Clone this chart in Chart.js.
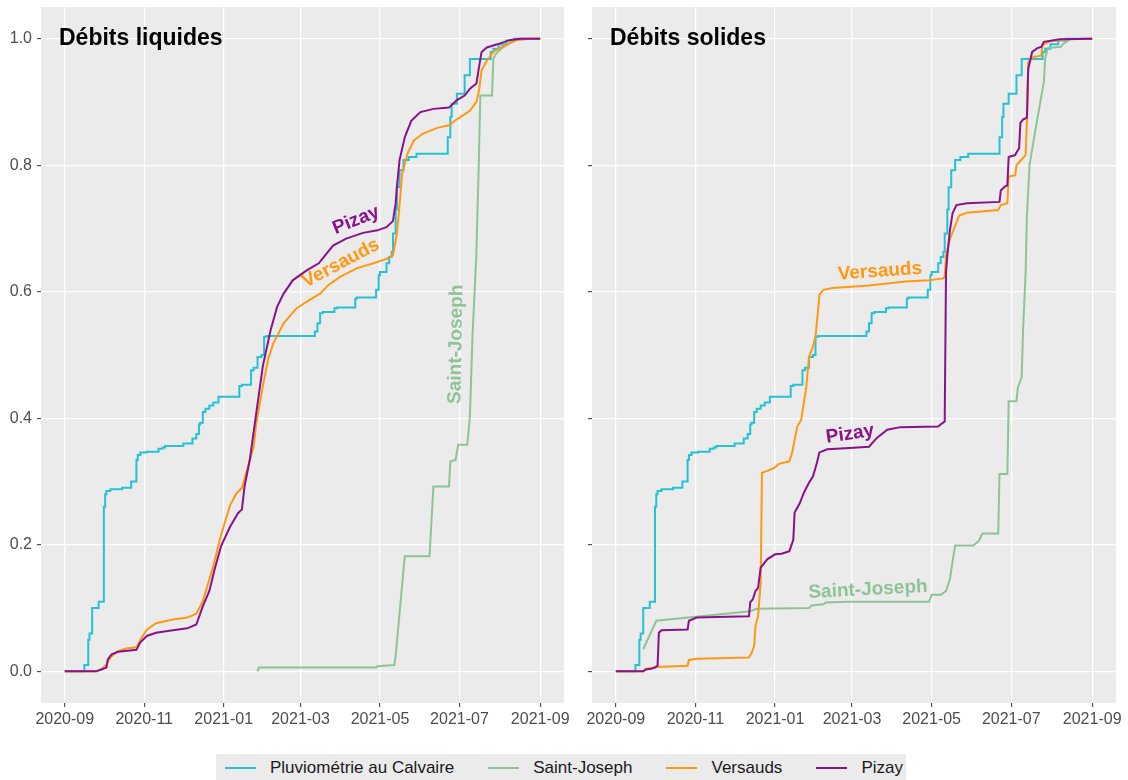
<!DOCTYPE html>
<html lang="fr">
<head>
  <meta charset="UTF-8">
  <title>Débits cumulés</title>
  <script src="https://cdn.jsdelivr.net/npm/chart.js"></script>
  <style>
    body { margin: 0; background: #fff; font-family: "Liberation Sans", Arial, sans-serif; }
    #wrap { position: relative; width: 1128px; height: 780px; overflow: hidden; }
    canvas { position: absolute; top: 0; }
    #liquides { left: 0; }
    #solides { left: 551px; }
    #legend {
      position: absolute; left: 216px; top: 754px; width: 690px; height: 28px;
      background: #ebebeb; display: flex; align-items: center;
      font-size: 17px; color: #1a1a1a; box-sizing: border-box; padding-left: 9px;
      white-space: nowrap;
    }
    .item { display: flex; align-items: center; margin-right: 34px; flex-shrink: 0; }
    .key { width: 31px; height: 2px; margin-right: 14px; flex-shrink: 0; }
  </style>
</head>
<body>
<div id="wrap">
  <canvas id="liquides" width="576" height="745"></canvas>
  <canvas id="solides" width="577" height="745"></canvas>
  <div id="legend"></div>
</div>

<script>
  // Cumulative share of the yearly total, per station (date, fraction)
  const calvaire = [
    ['2020-09-01', 0], ['2020-09-16', 0], ['2020-09-19', 0.01], ['2020-09-20', 0.05], ['2020-09-22', 0.06],
    ['2020-09-24', 0.10], ['2020-09-27', 0.10], ['2020-09-28', 0.11], ['2020-10-01', 0.11], ['2020-10-02', 0.26],
    ['2020-10-03', 0.28], ['2020-10-06', 0.285], ['2020-10-15', 0.288], ['2020-10-22', 0.29], ['2020-10-24', 0.30],
    ['2020-10-26', 0.30], ['2020-10-27', 0.334], ['2020-10-29', 0.342], ['2020-11-03', 0.346], ['2020-11-12', 0.347],
    ['2020-11-15', 0.352], ['2020-11-17', 0.354], ['2020-12-01', 0.356], ['2020-12-08', 0.36], ['2020-12-11', 0.368],
    ['2020-12-13', 0.375], ['2020-12-14', 0.39], ['2020-12-16', 0.393], ['2020-12-18', 0.41], ['2020-12-21', 0.415],
    ['2020-12-24', 0.42], ['2020-12-28', 0.425], ['2020-12-31', 0.434], ['2021-01-13', 0.434], ['2021-01-15', 0.451],
    ['2021-01-22', 0.453], ['2021-01-24', 0.476], ['2021-01-27', 0.48], ['2021-01-30', 0.497], ['2021-02-01', 0.50],
    ['2021-02-03', 0.529], ['2021-03-12', 0.53], ['2021-03-14', 0.537], ['2021-03-16', 0.55], ['2021-03-18', 0.566],
    ['2021-03-27', 0.568], ['2021-03-29', 0.574], ['2021-04-12', 0.575], ['2021-04-13', 0.589], ['2021-04-28', 0.591],
    ['2021-04-30', 0.603], ['2021-05-01', 0.626], ['2021-05-06', 0.631], ['2021-05-08', 0.645], ['2021-05-10', 0.655],
    ['2021-05-11', 0.663], ['2021-05-13', 0.692], ['2021-05-14', 0.73], ['2021-05-16', 0.765], ['2021-05-19', 0.792],
    ['2021-05-23', 0.808], ['2021-05-29', 0.813], ['2021-06-07', 0.818], ['2021-06-22', 0.818], ['2021-06-24', 0.844],
    ['2021-06-25', 0.876], ['2021-06-29', 0.897], ['2021-07-05', 0.913], ['2021-07-09', 0.942], ['2021-07-14', 0.968],
    ['2021-07-25', 0.968], ['2021-07-27', 0.979], ['2021-07-31', 0.984], ['2021-08-06', 0.991], ['2021-08-12', 0.997],
    ['2021-08-19', 1.0], ['2021-09-01', 1.0]
  ];

  // Débits liquides
  const liqSaintJoseph = [
    ['2021-01-27', 0], ['2021-01-28', 0.006], ['2021-04-28', 0.006], ['2021-04-29', 0.008], ['2021-05-12', 0.01],
    ['2021-05-13', 0.024], ['2021-05-20', 0.182], ['2021-06-08', 0.182], ['2021-06-11', 0.292], ['2021-06-23', 0.292],
    ['2021-06-24', 0.332], ['2021-06-28', 0.334], ['2021-06-30', 0.358], ['2021-07-07', 0.358], ['2021-07-09', 0.403],
    ['2021-07-11', 0.53], ['2021-07-14', 0.66], ['2021-07-16', 0.818], ['2021-07-17', 0.91], ['2021-07-26', 0.91],
    ['2021-07-27', 0.968], ['2021-07-29', 0.976], ['2021-08-02', 0.984], ['2021-08-09', 0.993], ['2021-08-14', 0.998],
    ['2021-08-22', 1.0]
  ];
  const liqVersauds = [
    ['2020-09-01', 0], ['2020-09-25', 0], ['2020-09-29', 0.003], ['2020-10-03', 0.011], ['2020-10-06', 0.022],
    ['2020-10-11', 0.031], ['2020-10-18', 0.036], ['2020-10-26', 0.038], ['2020-10-29', 0.05], ['2020-11-03', 0.066],
    ['2020-11-10', 0.076], ['2020-11-23', 0.082], ['2020-12-04', 0.085], ['2020-12-11', 0.091], ['2020-12-16', 0.111],
    ['2020-12-24', 0.166], ['2020-12-30', 0.216], ['2021-01-06', 0.263], ['2021-01-11', 0.282], ['2021-01-15', 0.29],
    ['2021-01-19', 0.319], ['2021-01-24', 0.355], ['2021-01-26', 0.392], ['2021-01-31', 0.45], ['2021-02-04', 0.492],
    ['2021-02-08', 0.518], ['2021-02-16', 0.55], ['2021-02-26', 0.574], ['2021-03-08', 0.587], ['2021-03-16', 0.597],
    ['2021-03-22', 0.61], ['2021-03-31', 0.623], ['2021-04-13', 0.637], ['2021-04-26', 0.645], ['2021-05-06', 0.652],
    ['2021-05-11', 0.658], ['2021-05-14', 0.692], ['2021-05-15', 0.713], ['2021-05-18', 0.786], ['2021-05-22', 0.818],
    ['2021-05-27', 0.839], ['2021-06-03', 0.85], ['2021-06-14', 0.859], ['2021-06-23', 0.863], ['2021-06-28', 0.871],
    ['2021-07-04', 0.879], ['2021-07-09', 0.886], ['2021-07-14', 0.9], ['2021-07-16', 0.918], ['2021-07-18', 0.95],
    ['2021-07-22', 0.965], ['2021-07-27', 0.979], ['2021-08-04', 0.989], ['2021-08-14', 0.998], ['2021-08-24', 1.0],
    ['2021-09-01', 1.0]
  ];
  const liqPizay = [
    ['2020-09-01', 0], ['2020-09-25', 0], ['2020-09-29', 0.003], ['2020-10-03', 0.006], ['2020-10-04', 0.019],
    ['2020-10-07', 0.027], ['2020-10-12', 0.031], ['2020-10-26', 0.034], ['2020-10-29', 0.046], ['2020-11-03', 0.056],
    ['2020-11-10', 0.061], ['2020-11-23', 0.065], ['2020-12-04', 0.068], ['2020-12-11', 0.074], ['2020-12-16', 0.103],
    ['2020-12-21', 0.127], ['2020-12-25', 0.161], ['2020-12-30', 0.198], ['2021-01-06', 0.229], ['2021-01-12', 0.25],
    ['2021-01-15', 0.256], ['2021-01-17', 0.292], ['2021-01-21', 0.334], ['2021-01-26', 0.408], ['2021-01-31', 0.482],
    ['2021-02-06', 0.539], ['2021-02-11', 0.576], ['2021-02-16', 0.597], ['2021-02-23', 0.618], ['2021-03-06', 0.634],
    ['2021-03-15', 0.645], ['2021-03-20', 0.658], ['2021-03-26', 0.673], ['2021-04-05', 0.684], ['2021-04-18', 0.693],
    ['2021-04-29', 0.697], ['2021-05-06', 0.702], ['2021-05-11', 0.712], ['2021-05-13', 0.74], ['2021-05-14', 0.766],
    ['2021-05-16', 0.808], ['2021-05-20', 0.844], ['2021-05-25', 0.87], ['2021-06-01', 0.884], ['2021-06-11', 0.889],
    ['2021-06-23', 0.891], ['2021-06-29', 0.903], ['2021-07-05', 0.91], ['2021-07-09', 0.921], ['2021-07-14', 0.929],
    ['2021-07-16', 0.955], ['2021-07-18', 0.979], ['2021-07-22', 0.986], ['2021-07-30', 0.991], ['2021-08-09', 0.998],
    ['2021-08-17', 1.0], ['2021-09-01', 1.0]
  ];

  // Débits solides
  const solSaintJoseph = [
    ['2020-09-22', 0.035], ['2020-10-02', 0.08], ['2020-12-13', 0.095], ['2020-12-18', 0.099], ['2021-01-27', 0.1],
    ['2021-01-29', 0.104], ['2021-02-07', 0.106], ['2021-02-09', 0.109], ['2021-02-27', 0.11], ['2021-04-29', 0.11],
    ['2021-05-01', 0.121], ['2021-05-08', 0.121], ['2021-05-12', 0.127], ['2021-05-15', 0.146], ['2021-05-17', 0.173],
    ['2021-05-19', 0.199], ['2021-06-02', 0.199], ['2021-06-06', 0.206], ['2021-06-09', 0.218], ['2021-06-21', 0.218],
    ['2021-06-22', 0.312], ['2021-06-28', 0.312], ['2021-06-29', 0.427], ['2021-07-05', 0.427], ['2021-07-06', 0.448],
    ['2021-07-09', 0.465], ['2021-07-10', 0.538], ['2021-07-12', 0.63], ['2021-07-13', 0.72], ['2021-07-15', 0.80],
    ['2021-07-19', 0.85], ['2021-07-26', 0.932], ['2021-07-27', 0.969], ['2021-07-29', 0.985], ['2021-08-08', 0.987],
    ['2021-08-10', 0.992], ['2021-08-13', 0.996], ['2021-08-16', 1.0]
  ];
  const solVersauds = [
    ['2020-09-01', 0], ['2020-09-22', 0], ['2020-09-24', 0.004], ['2020-10-02', 0.007], ['2020-10-26', 0.009],
    ['2020-10-27', 0.018], ['2020-11-02', 0.02], ['2020-12-12', 0.022], ['2020-12-14', 0.029], ['2020-12-16', 0.04],
    ['2020-12-17', 0.072], ['2020-12-19', 0.087], ['2020-12-21', 0.14], ['2020-12-22', 0.314], ['2020-12-25', 0.316],
    ['2020-12-31', 0.321], ['2021-01-04', 0.328], ['2021-01-12', 0.332], ['2021-01-14', 0.345], ['2021-01-18', 0.387],
    ['2021-01-21', 0.397], ['2021-01-22', 0.41], ['2021-01-25', 0.45], ['2021-01-27', 0.497], ['2021-01-30', 0.513],
    ['2021-02-01', 0.529], ['2021-02-03', 0.571], ['2021-02-04', 0.595], ['2021-02-07', 0.603], ['2021-02-14', 0.606],
    ['2021-03-14', 0.61], ['2021-04-11', 0.616], ['2021-04-29', 0.618], ['2021-05-10', 0.621], ['2021-05-11', 0.624],
    ['2021-05-12', 0.657], ['2021-05-15', 0.683], ['2021-05-19', 0.704], ['2021-05-22', 0.72], ['2021-05-28', 0.725],
    ['2021-06-21', 0.729], ['2021-06-23', 0.737], ['2021-06-28', 0.74], ['2021-06-29', 0.782], ['2021-07-04', 0.784],
    ['2021-07-05', 0.8], ['2021-07-08', 0.807], ['2021-07-12', 0.816], ['2021-07-13', 0.87], ['2021-07-14', 0.963],
    ['2021-07-18', 0.971], ['2021-07-24', 0.973], ['2021-07-25', 0.99], ['2021-07-31', 0.996], ['2021-08-13', 0.999],
    ['2021-09-01', 1.0]
  ];
  const solPizay = [
    ['2020-09-01', 0], ['2020-09-22', 0], ['2020-09-24', 0.003], ['2020-09-28', 0.004], ['2020-10-01', 0.006],
    ['2020-10-03', 0.009], ['2020-10-04', 0.061], ['2020-10-06', 0.065], ['2020-10-26', 0.066], ['2020-10-27', 0.08],
    ['2020-11-02', 0.085], ['2020-11-17', 0.086], ['2020-12-12', 0.087], ['2020-12-13', 0.109], ['2020-12-15', 0.114],
    ['2020-12-17', 0.127], ['2020-12-19', 0.132], ['2020-12-21', 0.164], ['2020-12-26', 0.177], ['2021-01-01', 0.185],
    ['2021-01-06', 0.186], ['2021-01-12', 0.19], ['2021-01-15', 0.208], ['2021-01-16', 0.251], ['2021-01-20', 0.266],
    ['2021-01-23', 0.282], ['2021-01-27', 0.298], ['2021-01-30', 0.308], ['2021-02-02', 0.329], ['2021-02-04', 0.346],
    ['2021-02-10', 0.351], ['2021-02-27', 0.353], ['2021-03-14', 0.355], ['2021-03-20', 0.369], ['2021-03-28', 0.382],
    ['2021-04-07', 0.386], ['2021-05-06', 0.387], ['2021-05-09', 0.392], ['2021-05-11', 0.395], ['2021-05-12', 0.63],
    ['2021-05-13', 0.657], ['2021-05-15', 0.697], ['2021-05-17', 0.724], ['2021-05-20', 0.737], ['2021-05-28', 0.74],
    ['2021-06-22', 0.742], ['2021-06-23', 0.76], ['2021-06-26', 0.766], ['2021-06-28', 0.768], ['2021-06-29', 0.813],
    ['2021-07-04', 0.816], ['2021-07-05', 0.82], ['2021-07-07', 0.827], ['2021-07-08', 0.867], ['2021-07-10', 0.872],
    ['2021-07-13', 0.875], ['2021-07-14', 0.952], ['2021-07-17', 0.979], ['2021-07-21', 0.985], ['2021-07-24', 0.987],
    ['2021-07-26', 0.995], ['2021-08-07', 0.999], ['2021-09-01', 1.0]
  ];

  const stations = ['Pluviométrie au Calvaire', 'Saint-Joseph', 'Versauds', 'Pizay'];
  const colors = ['#25c2d5', '#8dc496', '#ff9812', '#8b108b'];
  const xTickLabels = ['2020-09', '2020-11', '2021-01', '2021-03', '2021-05', '2021-07', '2021-09'];
  const yTickLabels = ['0.0', '0.2', '0.4', '0.6', '0.8', '1.0'];

  const FONT = '"Liberation Sans", Arial, sans-serif';
  const T0 = Date.UTC(2020, 8, 1);

  // days since 2020-09-01
  function toDay(s) {
    const [y, m, d] = s.split('-').map(Number);
    return (Date.UTC(y, m - 1, d || 1) - T0) / 86400000;
  }
  const toXY = arr => arr.map(([d, v]) => ({ x: toDay(d), y: v }));
  const xTicks = xTickLabels.map(toDay);
  const yTicks = yTickLabels.map(Number);

  // grey panel behind the grid
  const panelBg = {
    id: 'panelBg',
    beforeDraw(chart) {
      const { ctx, chartArea: a } = chart;
      ctx.save();
      ctx.fillStyle = '#ebebeb';
      ctx.fillRect(a.left, a.top, a.width, a.height);
      ctx.restore();
    }
  };

  // facet title + names written next to the curves
  const panelText = {
    id: 'panelText',
    afterDatasetsDraw(chart, args, opts) {
      const { ctx, chartArea: a, scales: { x, y } } = chart;
      ctx.save();
      ctx.font = 'bold 23px ' + FONT;
      ctx.fillStyle = '#000';
      ctx.textAlign = 'left';
      ctx.textBaseline = 'middle';
      ctx.fillText(opts.title, a.left + 18, y.getPixelForValue(1));
      opts.labels.forEach(l => {
        ctx.save();
        ctx.translate(x.getPixelForValue(l.day), y.getPixelForValue(l.value));
        ctx.rotate(l.angle * Math.PI / 180);
        ctx.font = 'bold 19px ' + FONT;
        ctx.fillStyle = colors[stations.indexOf(l.text)];
        ctx.textAlign = 'center';
        ctx.fillText(l.text, 0, 0);
        ctx.restore();
      });
      ctx.restore();
    }
  };

  // keep the panel edges where the layout puts them, whatever the label sizes
  function fixBox(s, w, h) {
    if (w) s.width = w;
    if (h) s.height = h;
    s.paddingTop = s.paddingBottom = s.paddingLeft = s.paddingRight = 0;
  }

  function makePanel(id, series, showY, title, labels) {
    const datasets = series.map((s, i) => ({
      label: stations[i],
      data: toXY(s),
      borderColor: colors[i],
      borderWidth: 2,
      pointRadius: 0,
      tension: 0,
      stepped: i === 0 ? 'after' : false,
      order: series.length - i
    }));

    const grid = { color: '#ffffff', lineWidth: 1.3, tickColor: '#333333', tickLength: 4, tickWidth: 1 };

    return new Chart(document.getElementById(id), {
      type: 'line',
      data: { datasets },
      plugins: [panelBg, panelText],
      options: {
        responsive: false,
        animation: false,
        layout: { padding: { top: 7, right: 12, bottom: 0, left: 0 } },
        plugins: {
          legend: { display: false },
          tooltip: { enabled: false },
          panelText: { title, labels }
        },
        scales: {
          x: {
            type: 'linear', min: -18.25, max: 383.25,
            afterBuildTicks: s => { s.ticks = xTicks.map(v => ({ value: v })); },
            afterFit: s => fixBox(s, 0, 42),
            ticks: {
              callback: (v, i) => xTickLabels[i],
              color: '#4d4d4d', font: { size: 16, family: FONT },
              padding: 3, maxRotation: 0, autoSkip: false
            },
            grid, border: { display: false }
          },
          y: {
            type: 'linear', min: -0.05, max: 1.05,
            afterBuildTicks: s => { s.ticks = yTicks.map(v => ({ value: v })); },
            afterFit: s => fixBox(s, 41, 0),
            ticks: {
              display: showY,
              callback: (v, i) => yTickLabels[i],
              color: '#4d4d4d', font: { size: 16, family: FONT },
              padding: 5
            },
            grid, border: { display: false }
          }
        }
      }
    });
  }

  makePanel('liquides', [calvaire, liqSaintJoseph, liqVersauds, liqPizay], true, 'Débits liquides', [
    { text: 'Pizay', day: 223.6, value: 0.713, angle: -22 },
    { text: 'Versauds', day: 212, value: 0.645, angle: -28 },
    { text: 'Saint-Joseph', day: 300.4, value: 0.517, angle: -89 }
  ]);

  makePanel('solides', [calvaire, solSaintJoseph, solVersauds, solPizay], false, 'Débits solides', [
    { text: 'Versauds', day: 202.4, value: 0.632, angle: -4 },
    { text: 'Pizay', day: 179.4, value: 0.375, angle: -8 },
    { text: 'Saint-Joseph', day: 193.2, value: 0.129, angle: -3 }
  ]);

  // legend strip under both panels
  const legend = document.getElementById('legend');
  stations.forEach((name, i) => {
    const item = document.createElement('div');
    item.className = 'item';
    const key = document.createElement('span');
    key.className = 'key';
    key.style.background = colors[i];
    const txt = document.createElement('span');
    txt.textContent = name;
    item.appendChild(key);
    item.appendChild(txt);
    legend.appendChild(item);
  });
</script>
</body>
</html>
